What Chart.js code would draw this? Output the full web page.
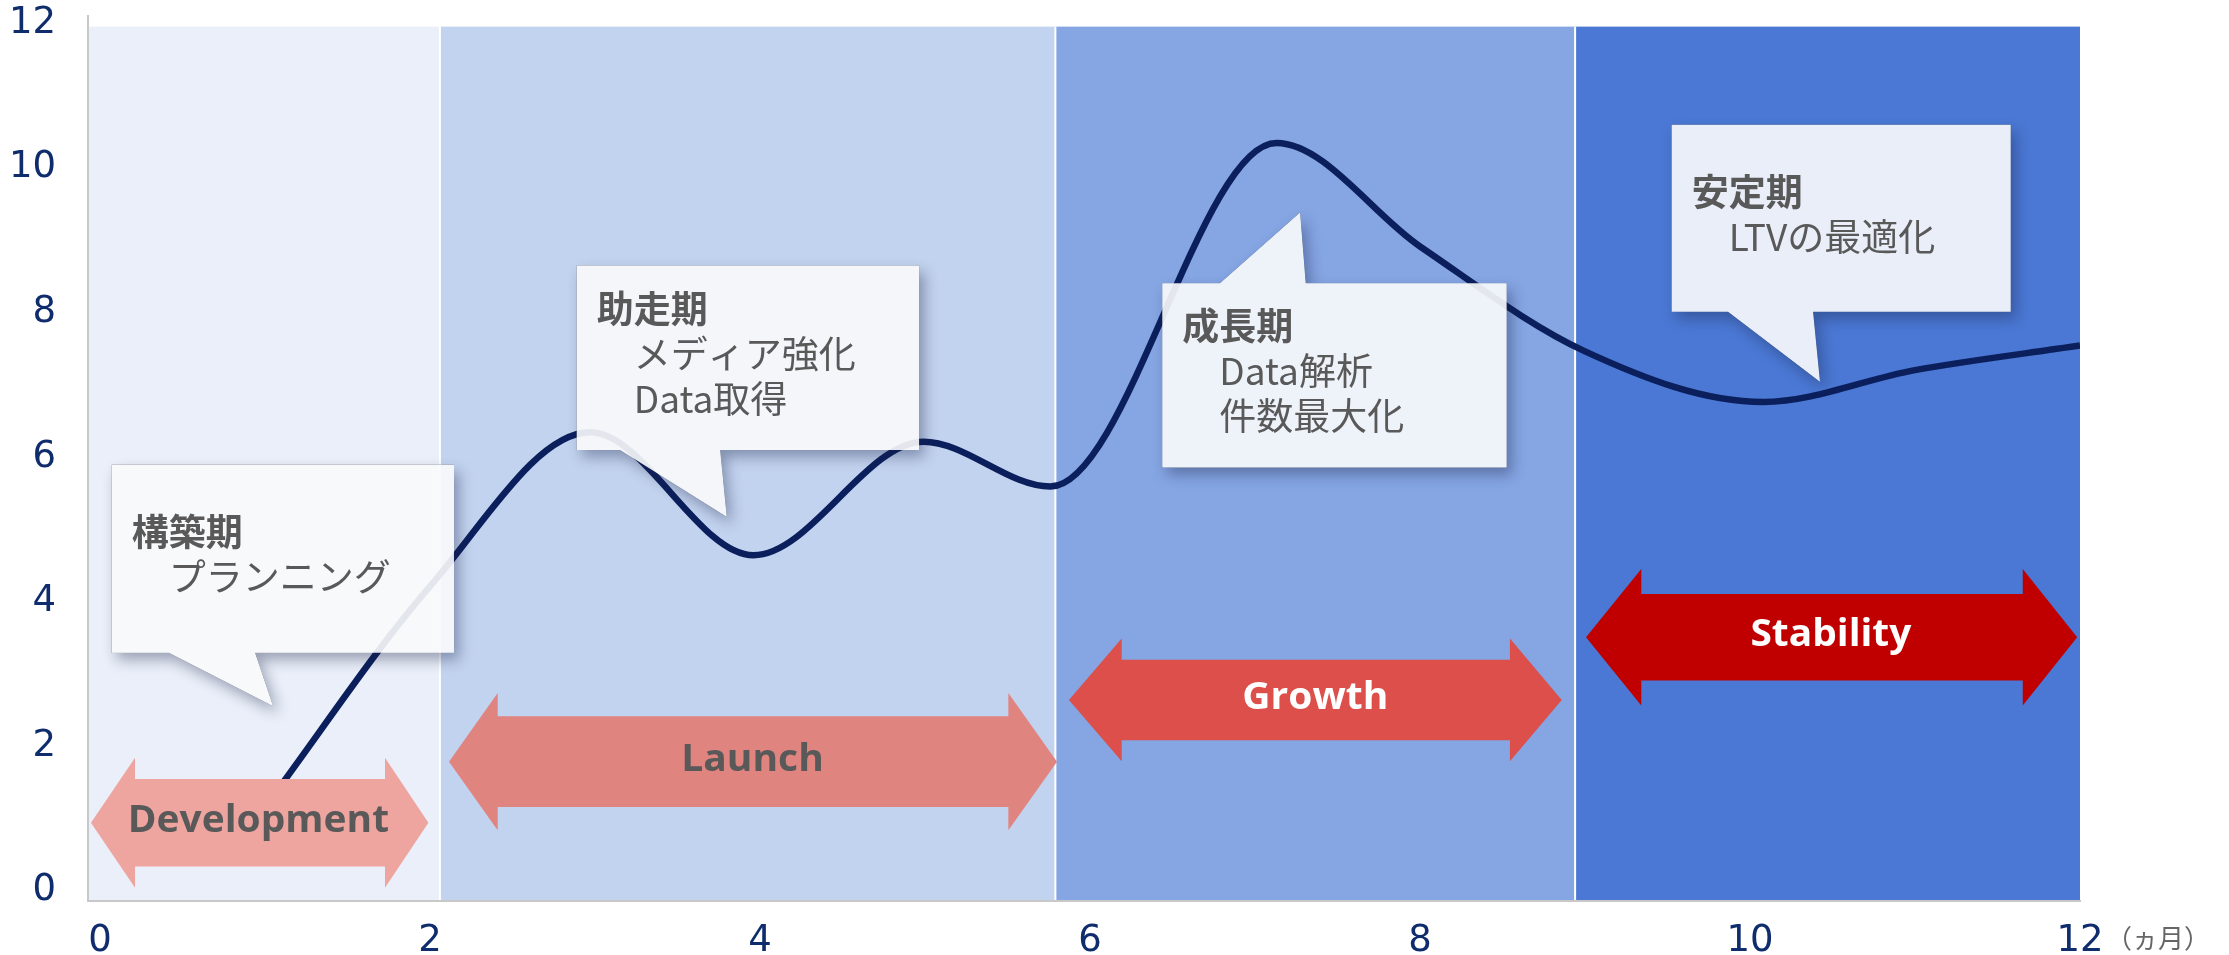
<!DOCTYPE html>
<html>
<head>
<meta charset="utf-8">
<script src="https://cdn.jsdelivr.net/npm/chart.js@4.4.0/dist/chart.umd.min.js"></script>
<style>
html,body{margin:0;padding:0;background:#ffffff;}
#wrap{width:2229px;height:955px;position:relative;}
</style>
</head>
<body>
<div id="wrap"><canvas id="c" width="2229" height="955"></canvas></div>
<script>
// ---------------- data ----------------
const months = [1, 2, 2.97, 3.96, 4.99, 5.76, 7.13, 8, 9, 10.08, 11, 12];
const values = [1.16, 4.21, 6.34, 4.64, 6.21, 5.59, 10.34, 8.91, 7.46, 6.76, 7.20, 7.54];
const xTickValues = [0, 2, 4, 6, 8, 10, 12];
const yTickValues = [0, 2, 4, 6, 8, 10, 12];
const unitLabel = '（ヵ月）';

const phaseStart = [-0.073, 2.06, 5.79, 8.94];
const phaseEnd   = [2.06, 5.79, 8.94, 12];
const phaseNames  = ['Development', 'Launch', 'Growth', 'Stability'];
const phaseTitles = ['構築期', '助走期', '成長期', '安定期'];
const phaseNotes  = [['プランニング'], ['メディア強化', 'Data取得'], ['Data解析', '件数最大化'], ['LTVの最適化']];

// ---------------- layout / style (not data) ----------------
const X_MIN = -0.073, X_MAX = 12, Y_MIN = -0.141, Y_MAX = 12.097;
const BAND_TOP = 11.95;
const bandColors = ['#EAEFF9', '#C2D3EF', '#85A5E3', '#4A78D4'];
const arrowColors = ['#EFA59F', '#E08480', '#DC4F4A', '#C00000'];
const arrowTextColors = ['#595959', '#595959', '#FFFFFF', '#FFFFFF'];
const arrowInkWidths = [257.7, 137.5, 141.8, 160.3];
const arrowGeo = [
  {l: -0.055, bl: 0.212, br: 1.727, r: 1.99,  cy: 0.942, hh: 65.0, sh: 43.7},
  {l: 2.115,  bl: 2.41,  br: 5.505, r: 5.80,  cy: 1.786, hh: 68.7, sh: 45.3},
  {l: 5.872,  bl: 6.192, br: 8.545, r: 8.859, cy: 2.639, hh: 61.4, sh: 40.3},
  {l: 9.006,  bl: 9.341, br: 11.653, r: 11.983, cy: 3.506, hh: 68.3, sh: 43.3}
];
const calloutGeo = [
  {l: 0.071, r: 2.145, t: 5.893, b: 3.293, ta: 0.418, tb: 0.939, tipX: 1.048, tipY: 2.556, side: 'bottom'},
  {l: 2.889, r: 4.964, t: 8.646, b: 6.097, ta: 3.152, tb: 3.758, tipX: 3.798, tipY: 5.174, side: 'bottom'},
  {l: 6.438, r: 8.525, t: 8.402, b: 5.852, ta: 6.788, tb: 7.307, tipX: 7.273, tipY: 9.379, side: 'top'},
  {l: 9.525, r: 11.58, t: 10.592, b: 8.006, ta: 9.867, tb: 10.382, tipX: 10.424, tipY: 7.041, side: 'bottom'}
];
const CJK = '"Noto Sans CJK JP", "Noto Sans CJK SC", sans-serif';

const bandPlugin = {
  id: 'bands',
  beforeDraw(chart) {
    const {ctx, chartArea: a, scales: {x, y}} = chart;
    const top = y.getPixelForValue(BAND_TOP);
    ctx.save();
    phaseStart.forEach((s, i) => {
      const l = Math.max(a.left, x.getPixelForValue(s));
      const r = Math.min(a.right, x.getPixelForValue(phaseEnd[i]));
      ctx.fillStyle = bandColors[i];
      ctx.fillRect(l, top, r - l, a.bottom - top);
    });
    ctx.fillStyle = '#FFFFFF';
    for (let i = 1; i < phaseStart.length; i++) {
      const px = x.getPixelForValue(phaseStart[i]);
      ctx.fillRect(px - 1, top, 2, a.bottom - top);
    }
    ctx.restore();
  }
};

function polyPath(ctx, pts) {
  pts.forEach((p, i) => i ? ctx.lineTo(p[0], p[1]) : ctx.moveTo(p[0], p[1]));
  ctx.closePath();
}

const annoPlugin = {
  id: 'anno',
  afterDatasetsDraw(chart) {
    const {ctx, scales: {x, y}, width: W, height: H} = chart;
    const X = v => x.getPixelForValue(v), Y = v => y.getPixelForValue(v);
    ctx.save();
    arrowGeo.forEach((g, i) => {
      const l = X(g.l), bl = X(g.bl), br = X(g.br), r = X(g.r), cy = Y(g.cy);
      ctx.fillStyle = arrowColors[i];
      ctx.beginPath();
      polyPath(ctx, [[l, cy], [bl, cy - g.hh], [bl, cy - g.sh], [br, cy - g.sh], [br, cy - g.hh], [r, cy],
        [br, cy + g.hh], [br, cy + g.sh], [bl, cy + g.sh], [bl, cy + g.hh]]);
      ctx.fill();
      ctx.font = 'bold 38px "Open Sans"';
      ctx.textAlign = 'center';
      ctx.textBaseline = 'alphabetic';
      const m = ctx.measureText(phaseNames[i]);
      const ink = m.actualBoundingBoxLeft + m.actualBoundingBoxRight;
      const sx = arrowInkWidths[i] / ink;
      const capH = 27.1;
      ctx.save();
      ctx.translate((l + r) / 2, cy - 4.5 + capH / 2);
      ctx.scale(sx, 1);
      ctx.fillStyle = arrowTextColors[i];
      ctx.fillText(phaseNames[i], -(m.actualBoundingBoxRight - m.actualBoundingBoxLeft) / 2, 0);
      ctx.restore();
    });
    calloutGeo.forEach((g, i) => {
      const L = X(g.l), R = X(g.r), T = Y(g.t), B = Y(g.b), ta = X(g.ta), tb = X(g.tb), tx = X(g.tipX), ty = Y(g.tipY);
      const pts = g.side === 'bottom'
        ? [[L, T], [R, T], [R, B], [tb, B], [tx, ty], [ta, B], [L, B]]
        : [[L, T], [ta, T], [tx, ty], [tb, T], [R, T], [R, B], [L, B]];
      ctx.save();
      ctx.beginPath();
      ctx.rect(0, 0, W, H);
      polyPath(ctx, pts);
      ctx.clip('evenodd');
      ctx.shadowColor = 'rgba(25,35,70,0.38)';
      ctx.shadowBlur = 14;
      ctx.shadowOffsetX = 5;
      ctx.shadowOffsetY = 7;
      ctx.fillStyle = '#000';
      ctx.beginPath();
      polyPath(ctx, pts);
      ctx.fill();
      ctx.restore();
      ctx.fillStyle = 'rgba(248,249,251,0.915)';
      ctx.beginPath();
      polyPath(ctx, pts);
      ctx.fill();
      const lines = [phaseTitles[i]].concat(phaseNotes[i]);
      const LH = 45;
      const cyText = (T + B) / 2 - 4;
      const first = cyText - (lines.length - 1) / 2 * LH;
      ctx.fillStyle = '#595959';
      ctx.textAlign = 'left';
      ctx.textBaseline = 'middle';
      lines.forEach((s, k) => {
        ctx.font = (k === 0 ? 'bold ' : '') + '37px ' + CJK;
        ctx.fillText(k === 0 ? s : '\u3000' + s, L + 20, first + k * LH);
      });
    });
    ctx.restore();
  },
  afterDraw(chart) {
    const {ctx, scales: {x}} = chart;
    ctx.save();
    ctx.font = '26px ' + CJK;
    ctx.fillStyle = '#666666';
    ctx.textAlign = 'left';
    ctx.textBaseline = 'middle';
    ctx.fillText(unitLabel, x.getPixelForValue(12) + 26, x.top + 37);
    ctx.restore();
  }
};

const tickFont = {family: '"DejaVu Sans", Verdana, sans-serif', size: 37};
const tickColor = '#0F2C6C';

new Chart(document.getElementById('c'), {
  type: 'line',
  data: {
    datasets: [{
      data: months.map((m, i) => ({x: m, y: values[i]})),
      borderColor: '#0B1F5C',
      borderWidth: 6.5,
      pointRadius: 0,
      fill: false,
      cubicInterpolationMode: 'monotone',
      borderCapStyle: 'butt',
      borderJoinStyle: 'round'
    }]
  },
  options: {
    responsive: false,
    devicePixelRatio: 1,
    animation: false,
    layout: {padding: {left: 0, top: 16, right: 149, bottom: 0}},
    plugins: {legend: {display: false}, tooltip: {enabled: false}},
    scales: {
      x: {
        type: 'linear', min: X_MIN, max: X_MAX,
        afterBuildTicks: s => { s.ticks = xTickValues.map(v => ({value: v})); },
        afterFit: s => { s.height = 54; s.paddingLeft = 0; s.paddingRight = 0; s.paddingTop = 0; s.paddingBottom = 0; },
        grid: {display: false, drawTicks: false},
        border: {display: true, color: '#C8C8C8', width: 2},
        ticks: {color: tickColor, font: tickFont, padding: 18, maxRotation: 0, autoSkip: false}
      },
      y: {
        type: 'linear', min: Y_MIN, max: Y_MAX,
        afterBuildTicks: s => { s.ticks = yTickValues.map(v => ({value: v})); },
        afterFit: s => { s.width = 88; s.paddingTop = 0; s.paddingBottom = 0; s.paddingLeft = 0; s.paddingRight = 0; },
        grid: {display: false, drawTicks: false},
        border: {display: true, color: '#C8C8C8', width: 2},
        ticks: {color: tickColor, font: tickFont, padding: 32, autoSkip: false}
      }
    }
  },
  plugins: [bandPlugin, annoPlugin]
});
</script>
</body>
</html>
